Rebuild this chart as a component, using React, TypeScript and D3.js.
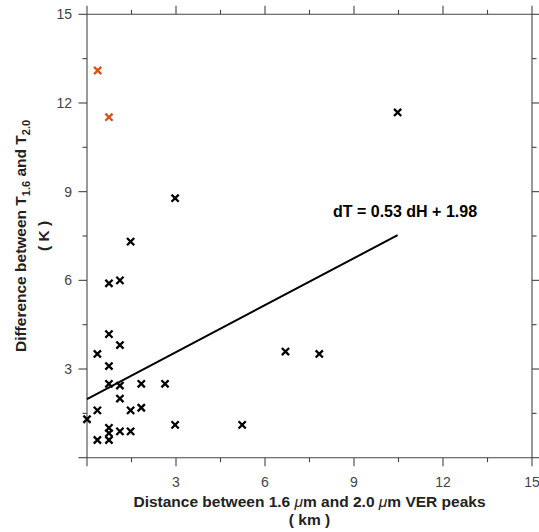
import React from "react";
import * as d3 from "d3";

const blackX = [1.47, 0.74, 1.11, 0.74, 1.11, 0.35, 0.74, 0.74, 1.11, 1.83, 2.63, 1.11, 0.35, 1.47, 1.83, 0.0, 2.97, 5.23, 0.74, 0.74, 0.74, 0.35, 1.11, 1.47, 2.97, 10.47, 6.69, 7.83];
const blackY = [7.31, 5.9, 6.0, 4.18, 3.81, 3.51, 3.1, 2.5, 2.44, 2.5, 2.5, 2.0, 1.6, 1.6, 1.69, 1.3, 1.11, 1.11, 1.01, 0.83, 0.6, 0.6, 0.89, 0.89, 8.78, 11.68, 3.59, 3.51];
const orangeX = [0.36, 0.74];
const orangeY = [13.1, 11.52];
const fitSlope = 0.53;
const fitIntercept = 1.98;
const fitRange = [0, 10.47];
const tickValues = [0, 1.5, 3, 4.5, 6, 7.5, 9, 10.5, 12, 13.5, 15];
const labeledTicks = [3, 6, 9, 12, 15];

const W = 539;
const H = 532;
const m = { left: 87, right: 532, top: 14.3, bottom: 457.7 };

export default function App() {
  const x = d3.scaleLinear().domain([0, 15]).range([m.left, m.right]);
  const y = d3.scaleLinear().domain([0, 15]).range([m.bottom, m.top]);
  const axisColor = "#444";
  const font = "'Liberation Sans', Arial, Helvetica, sans-serif";
  const isMajor = (v: number) => Math.abs(v / 3 - Math.round(v / 3)) < 1e-6;
  const line = d3
    .line<number>()
    .x((d) => x(d))
    .y((d) => y(fitSlope * d + fitIntercept));

  const marker = (cx: number, cy: number, color: string, key: string) => {
    const s = 3.6;
    return (
      <path
        key={key}
        d={`M${cx - s},${cy - s}L${cx + s},${cy + s}M${cx - s},${cy + s}L${cx + s},${cy - s}`}
        stroke={color}
        strokeWidth={2.3}
        fill="none"
      />
    );
  };

  return (
    <svg width={W} height={H} style={{ position: "absolute", left: 0, top: 0, background: "#fff" }}>
      <rect x={0} y={0} width={W} height={H} fill="#fff" />
      {/* axes box */}
      <g stroke={axisColor} strokeWidth={1.1} fill="none">
        <line x1={m.left} x2={m.right} y1={m.bottom} y2={m.bottom} />
        <line x1={m.left} x2={m.right} y1={m.top} y2={m.top} />
        <line x1={m.left} x2={m.left} y1={m.top} y2={m.bottom} />
        <line x1={m.right} x2={m.right} y1={m.top} y2={m.bottom} />
        {tickValues.map((v) => {
          const len = isMajor(v) ? 8.5 : 4.5;
          return (
            <g key={"t" + v}>
              <line x1={x(v)} x2={x(v)} y1={m.bottom} y2={m.bottom + len} />
              <line x1={x(v)} x2={x(v)} y1={m.top} y2={m.top - len} />
              <line x1={m.left} x2={m.left - len} y1={y(v)} y2={y(v)} />
              <line x1={m.right} x2={m.right + len} y1={y(v)} y2={y(v)} />
            </g>
          );
        })}
      </g>
      <g fill="#444" fontFamily={font} fontSize={14}>
        {labeledTicks.map((v) => (
          <text key={"xl" + v} x={x(v)} y={m.bottom + 29} textAnchor="middle">
            {v}
          </text>
        ))}
        {labeledTicks.map((v) => (
          <text key={"yl" + v} x={m.left - 15} y={y(v) + 5} textAnchor="end">
            {v}
          </text>
        ))}
      </g>
      {/* fit line */}
      <path d={line(fitRange) || ""} stroke="#000" strokeWidth={2} fill="none" />
      {/* points */}
      {blackX.map((v, i) => marker(x(v), y(blackY[i]), "#000", "b" + i))}
      {orangeX.map((v, i) => marker(x(v), y(orangeY[i]), "#d95319", "o" + i))}
      {/* equation */}
      <text x={405} y={217} textAnchor="middle" fontFamily={font} fontWeight="bold" fontSize={16} fill="#000">
        dT = 0.53 dH + 1.98
      </text>
      {/* x label */}
      <g fontFamily={font} fontWeight="bold" fontSize={15.5} fill="#222" textAnchor="middle">
        <text x={(m.left + m.right) / 2} y={507}>
          Distance between 1.6 <tspan fontStyle="italic" fontWeight="normal">μ</tspan>m and 2.0{" "}
          <tspan fontStyle="italic" fontWeight="normal">μ</tspan>m VER peaks
        </text>
        <text x={(m.left + m.right) / 2} y={525}>
          ( km )
        </text>
      </g>
      {/* y label */}
      <g fontFamily={font} fontWeight="bold" fontSize={15.5} fill="#222" textAnchor="middle">
        <text transform={`translate(25.5, ${(m.top + m.bottom) / 2}) rotate(-90)`}>
          Difference between T
          <tspan fontSize={11} dy={4}>1.6</tspan>
          <tspan dy={-4}> and T</tspan>
          <tspan fontSize={11} dy={4}>2.0</tspan>
        </text>
        <text transform={`translate(49, ${(m.top + m.bottom) / 2}) rotate(-90)`}>( K )</text>
      </g>
    </svg>
  );
}
